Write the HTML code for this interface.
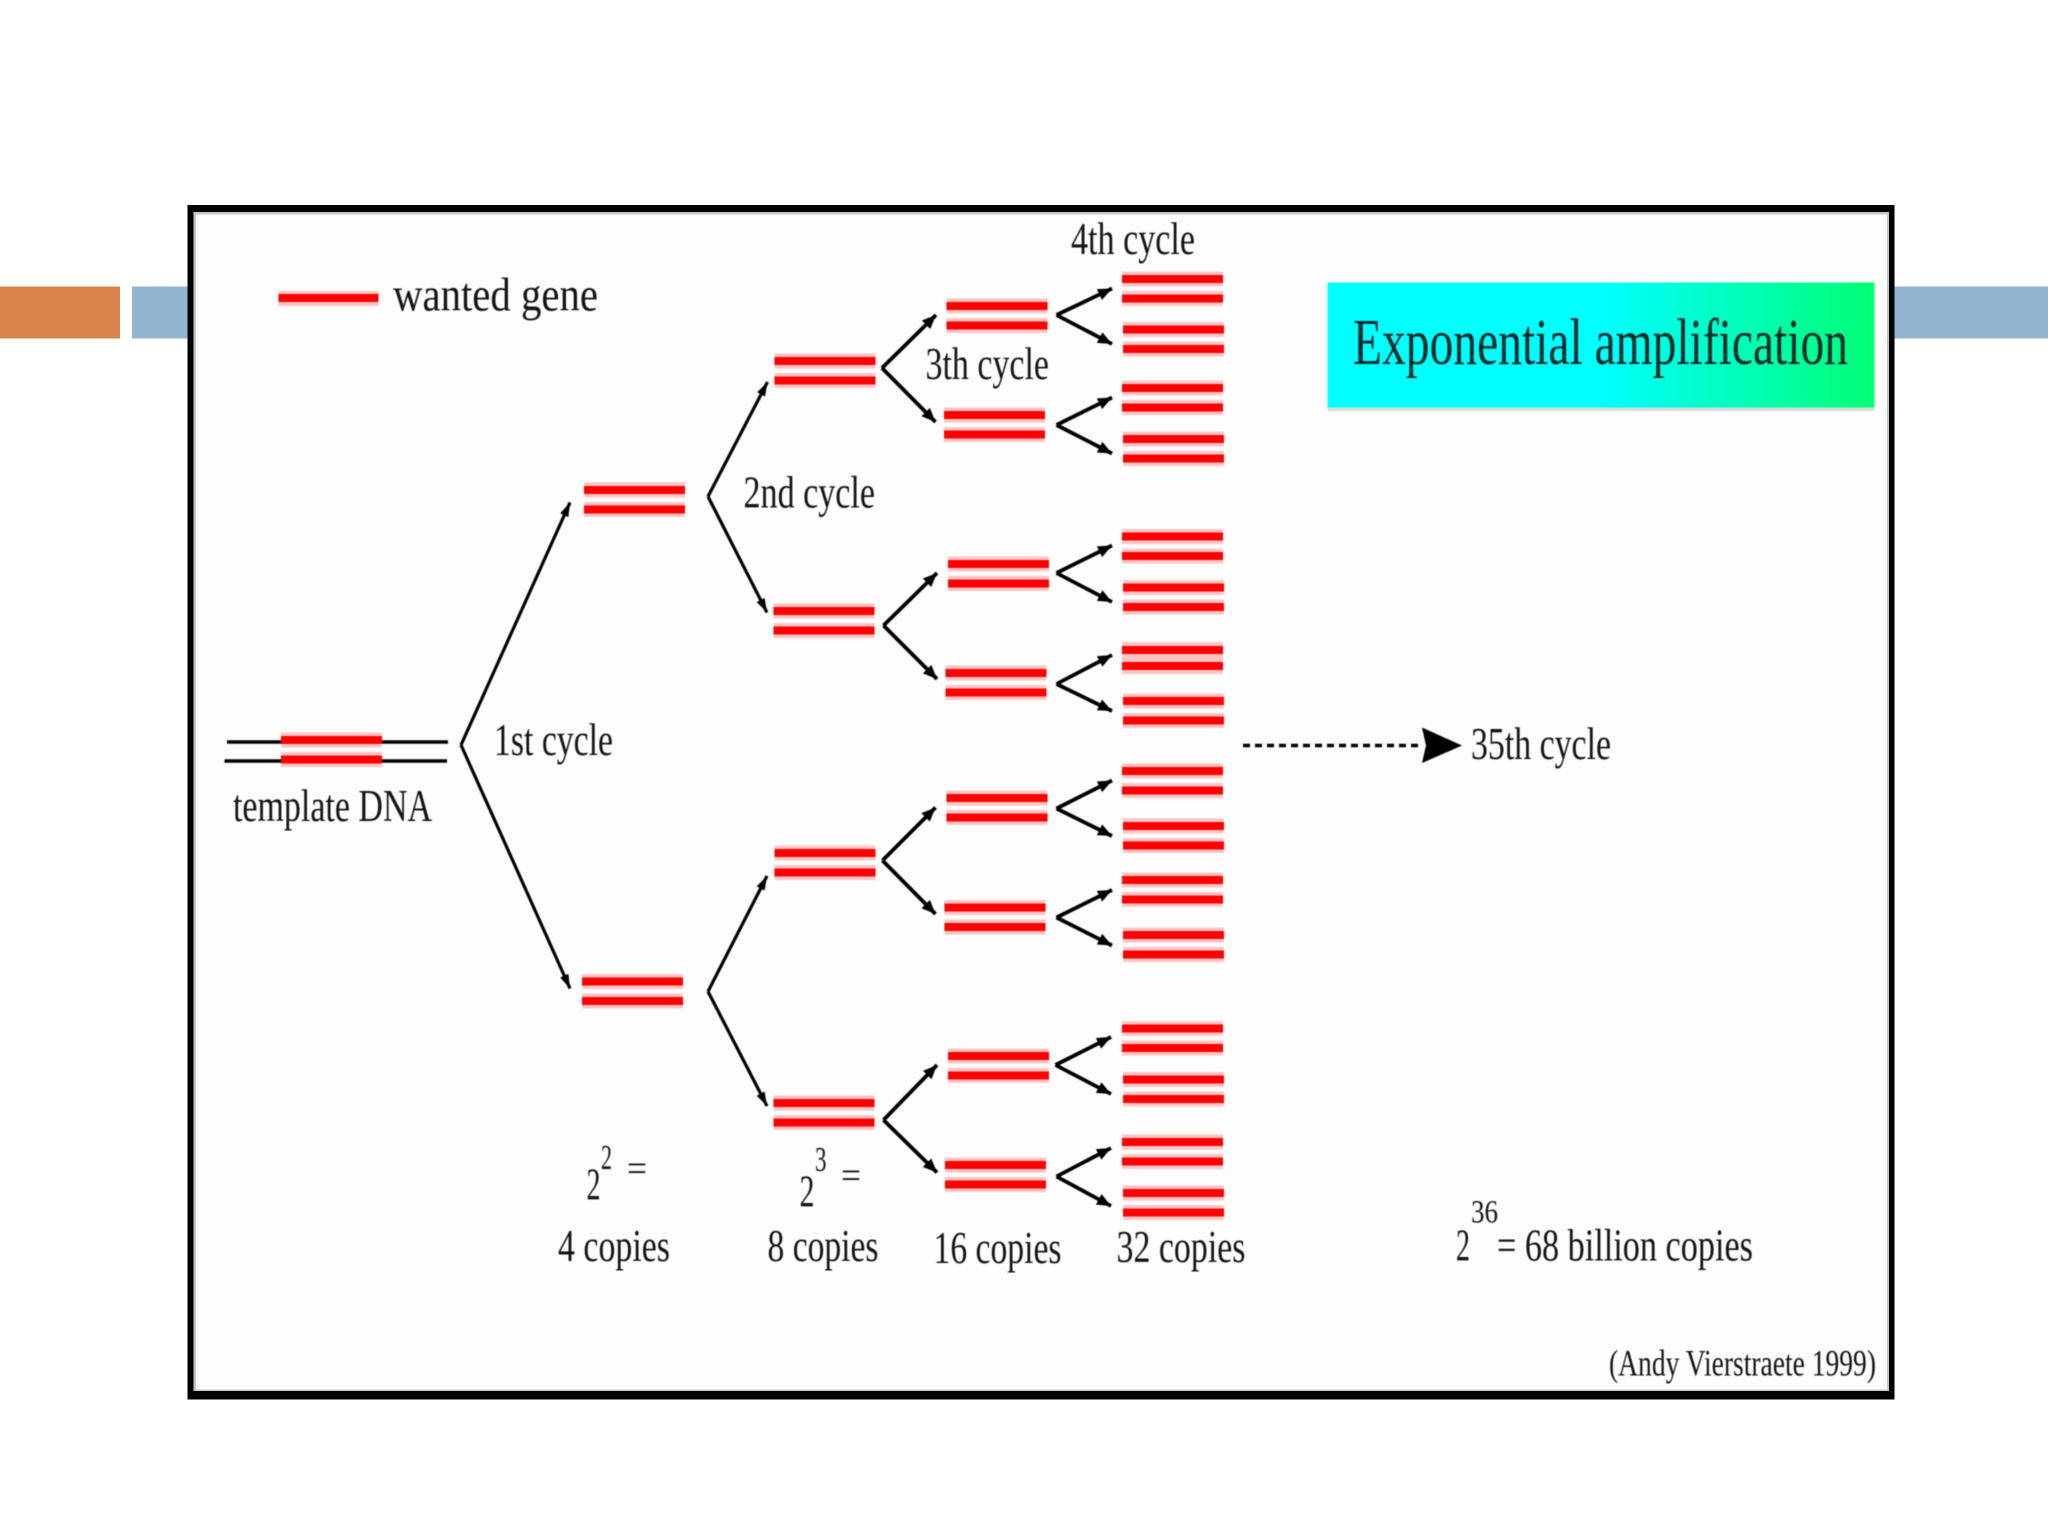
<!DOCTYPE html>
<html>
<head>
<meta charset="utf-8">
<title>Exponential amplification</title>
<style>
html,body{margin:0;padding:0;background:#fff;width:2048px;height:1536px;overflow:hidden}
svg{display:block}
text{font-family:"Liberation Serif",serif;fill:#141414;font-size:45px}
.soft{filter:blur(.6px)}
.a{stroke:#000;stroke-width:3.2;fill:none;marker-end:url(#ah)}
.b{stroke-width:3.8;marker-end:url(#ah2)}
</style>
</head>
<body>
<svg xmlns="http://www.w3.org/2000/svg" width="2048" height="1536" viewBox="0 0 2048 1536">
<defs>
<linearGradient id="gr" x1="0" y1="0" x2="1" y2="0">
<stop offset="0" stop-color="#00ffff"/><stop offset=".5" stop-color="#00ffff"/><stop offset="1" stop-color="#00ff74"/>
</linearGradient>
<marker id="ah" markerUnits="userSpaceOnUse" markerWidth="16" markerHeight="12" refX="14" refY="6" orient="auto"><path d="M0 1.5L14 6L0 10.5z" fill="#000"/></marker>
<marker id="ah2" markerUnits="userSpaceOnUse" markerWidth="16" markerHeight="14" refX="14" refY="7" orient="auto"><path d="M0 1L14 7L0 13z" fill="#000"/></marker>
<g id="p">
<rect x="0" y="-7.5" width="101" height="15" fill="#ffc4c4"/>
<rect x="0" y="12" width="101" height="15" fill="#ffc4c4"/>
<rect x="0" y="-4" width="101" height="8" fill="#ff0000"/>
<rect x="0" y="15.5" width="101" height="8" fill="#ff0000"/>
</g>
</defs>

<rect width="2048" height="1536" fill="#fff"/>
<rect x="0" y="286.500" width="120" height="52" fill="#d9844c"/>
<rect x="132" y="286.500" width="60" height="52" fill="#94b5d1"/>
<rect x="1890" y="286.500" width="158" height="52" fill="#94b5d1"/>

<rect x="187.500" y="205" width="1707" height="1194.500" fill="#000"/>
<rect x="193.500" y="212" width="1695.500" height="1179" fill="#c6c6c6"/>
<rect x="196" y="214.500" width="1691" height="1175" fill="#fdfdfd"/>

<g class="soft">
<rect x="1327.500" y="283" width="547" height="128" fill="#dcdcdc"/>
<rect x="1327.500" y="282.500" width="547" height="125" fill="url(#gr)"/>
<text x="1353" y="364" textLength="495" lengthAdjust="spacingAndGlyphs" style="font-size:66px;fill:#002a2a">Exponential amplification</text>

<rect x="278.500" y="291" width="100" height="15" fill="#ffc4c4"/>
<rect x="278.500" y="294" width="100" height="8" fill="#ff0000"/>
<text x="393" y="310.500" textLength="205" lengthAdjust="spacingAndGlyphs" style="font-size:48px">wanted gene</text>

<path d="M227 742H448M224.500 761H447" stroke="#000" stroke-width="3.400" fill="none"/>
<use href="#p" x="281" y="740"/>
<text x="233" y="821" textLength="199" lengthAdjust="spacingAndGlyphs">template DNA</text>

<path class="a" d="M461 745L570 502.500"/>
<path class="a" d="M461 745L570 988.500"/>
<text x="494" y="755" textLength="119" lengthAdjust="spacingAndGlyphs">1st cycle</text>

<use href="#p" x="584" y="490"/>
<use href="#p" x="582" y="981.500"/>

<path class="a" d="M708 496.500L767.500 382"/>
<path class="a" d="M708 496.500L767 612.500"/>
<path class="a" d="M708 991.500L767 876"/>
<path class="a" d="M708 991.500L767 1106"/>
<text x="743.500" y="507.500" textLength="131.500" lengthAdjust="spacingAndGlyphs">2nd cycle</text>

<use href="#p" x="774.500" y="361"/>
<use href="#p" x="773.500" y="611"/>
<use href="#p" x="774.500" y="853"/>
<use href="#p" x="773.500" y="1103"/>

<path class="a b" d="M882 368L936 315"/>
<path class="a b" d="M882 368L935.500 422"/>
<path class="a b" d="M883.500 625.500L937 573"/>
<path class="a b" d="M883.500 625.500L937 679"/>
<path class="a b" d="M882.500 860.500L935.500 807.500"/>
<path class="a b" d="M882.500 860.500L935.500 914"/>
<path class="a b" d="M883.500 1120L937 1065"/>
<path class="a b" d="M883.500 1120L937 1172.500"/>
<text x="925.500" y="379" textLength="123.500" lengthAdjust="spacingAndGlyphs">3th cycle</text>

<use href="#p" x="946.500" y="306"/>
<use href="#p" x="944" y="415"/>
<use href="#p" x="948" y="564"/>
<use href="#p" x="945.500" y="673"/>
<use href="#p" x="946.500" y="798"/>
<use href="#p" x="944.500" y="907.500"/>
<use href="#p" x="948" y="1056"/>
<use href="#p" x="945" y="1165"/>

<path class="a b" d="M1056.500 315L1112 288.500"/>
<path class="a b" d="M1056.500 315L1112 344"/>
<path class="a b" d="M1056.500 425L1112 397.500"/>
<path class="a b" d="M1056.500 425L1112 453.500"/>
<path class="a b" d="M1056.500 573L1112 545.500"/>
<path class="a b" d="M1056.500 573L1112 602"/>
<path class="a b" d="M1056.500 684L1112 655"/>
<path class="a b" d="M1056.500 684L1112 711"/>
<path class="a b" d="M1056.500 808.500L1112 780.500"/>
<path class="a b" d="M1056.500 808.500L1112 836"/>
<path class="a b" d="M1056.500 917.500L1112 890"/>
<path class="a b" d="M1056.500 917.500L1112 945.500"/>
<path class="a b" d="M1055.500 1065L1111 1037"/>
<path class="a b" d="M1055.500 1065L1111 1094"/>
<path class="a b" d="M1056.500 1176.500L1111 1148"/>
<path class="a b" d="M1056.500 1176.500L1111 1206"/>
<text x="1071" y="254" textLength="124" lengthAdjust="spacingAndGlyphs">4th cycle</text>

<use href="#p" x="1122" y="279"/>
<use href="#p" x="1123" y="329.500"/>
<use href="#p" x="1122" y="388"/>
<use href="#p" x="1123" y="439"/>
<use href="#p" x="1122" y="536.500"/>
<use href="#p" x="1123" y="587.500"/>
<rect x="1122" y="642" width="101" height="32" fill="#ffc4c4"/>
<rect x="1122" y="646" width="101" height="8" fill="#ff0000"/>
<rect x="1122" y="662" width="101" height="8" fill="#ff0000"/>
<use href="#p" x="1123" y="701"/>
<use href="#p" x="1122" y="771"/>
<use href="#p" x="1123" y="826"/>
<use href="#p" x="1122" y="880"/>
<use href="#p" x="1123" y="935"/>
<use href="#p" x="1122" y="1028.500"/>
<use href="#p" x="1123" y="1079.500"/>
<use href="#p" x="1122" y="1142"/>
<use href="#p" x="1123" y="1193"/>

<path d="M1243 745.500H1422" stroke="#000" stroke-width="3.400" stroke-dasharray="7 5" fill="none"/>
<path d="M1422 727.500L1462 745.500L1422 763L1426 745.500z" fill="#000"/>
<text x="1471" y="759" textLength="140" lengthAdjust="spacingAndGlyphs">35th cycle</text>

<text x="586.500" y="1199.500" textLength="14" lengthAdjust="spacingAndGlyphs">2</text>
<text x="601" y="1169" textLength="11" lengthAdjust="spacingAndGlyphs" style="font-size:35px">2</text>
<text x="627" y="1181" textLength="20" lengthAdjust="spacingAndGlyphs" style="font-size:38px">=</text>
<text x="799.500" y="1206.500" textLength="15" lengthAdjust="spacingAndGlyphs">2</text>
<text x="815" y="1171" textLength="11.500" lengthAdjust="spacingAndGlyphs" style="font-size:35px">3</text>
<text x="841" y="1188" textLength="20" lengthAdjust="spacingAndGlyphs" style="font-size:38px">=</text>

<text x="558" y="1261" textLength="112" lengthAdjust="spacingAndGlyphs">4 copies</text>
<text x="767.500" y="1261" textLength="111" lengthAdjust="spacingAndGlyphs">8 copies</text>
<text x="933.500" y="1263" textLength="128" lengthAdjust="spacingAndGlyphs">16 copies</text>
<text x="1116.500" y="1262" textLength="129" lengthAdjust="spacingAndGlyphs">32 copies</text>

<text x="1456" y="1260.500" textLength="14" lengthAdjust="spacingAndGlyphs">2</text>
<text x="1471" y="1222.500" textLength="27" lengthAdjust="spacingAndGlyphs" style="font-size:33px">36</text>
<text x="1497" y="1260.500" textLength="256" lengthAdjust="spacingAndGlyphs">= 68 billion copies</text>

<text x="1609" y="1375.500" textLength="267" lengthAdjust="spacingAndGlyphs" style="font-size:37px">(Andy Vierstraete 1999)</text>
</g>
</svg>
</body>
</html>
